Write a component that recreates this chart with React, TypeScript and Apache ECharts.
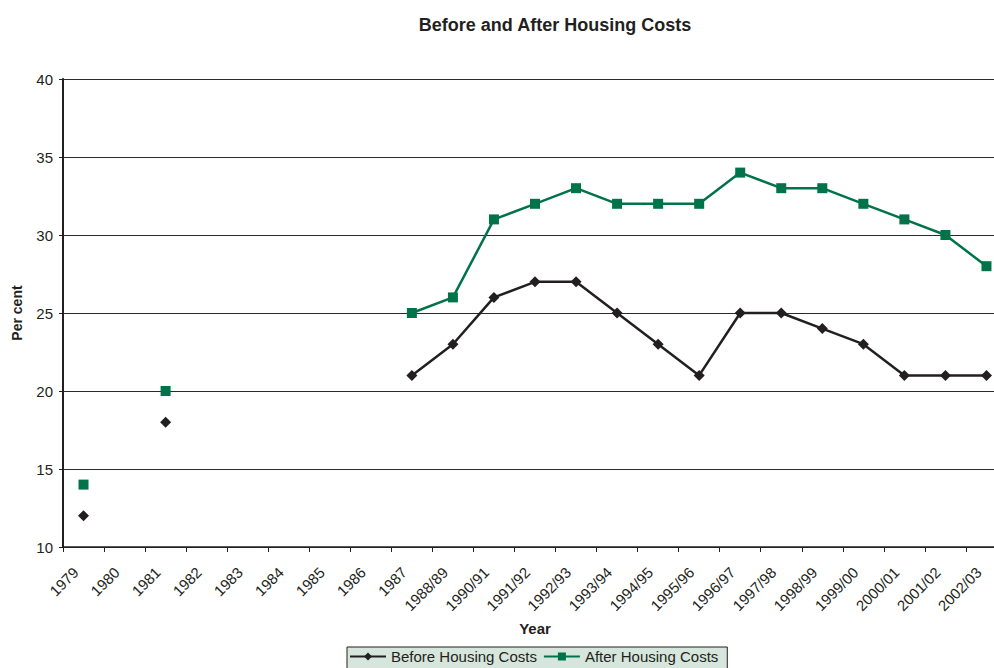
import React, { useEffect, useRef } from "react";
import * as echarts from "echarts";

const categories = ["1979","1980","1981","1982","1983","1984","1985","1986","1987","1988/89","1990/91","1991/92","1992/93","1993/94","1994/95","1995/96","1996/97","1997/98","1998/99","1999/00","2000/01","2001/02","2002/03"];
const beforeHC = [12,null,18,null,null,null,null,null,21,23,26,27,27,25,23,21,25,25,24,23,21,21,21];
const afterHC = [14,null,20,null,null,null,null,null,25,26,31,32,33,32,32,32,34,33,33,32,31,30,28];
const yTicks = { min: 10, max: 40, interval: 5 };

const FONT = "'Liberation Sans', Arial, sans-serif";
const DARK = "#231f20";
const GREEN = "#00734a";

export default function App() {
  const ref = useRef<HTMLDivElement>(null);
  useEffect(() => {
    const chart = echarts.init(ref.current!, null, { renderer: "svg" });
    chart.setOption({
      animation: false,
      textStyle: { fontFamily: FONT },
      title: {
        text: "Before and After Housing Costs",
        left: 550,
        top: 11,
        textAlign: "center",
        textStyle: { fontSize: 18, fontWeight: "bold", color: DARK, fontFamily: FONT },
      },
      grid: { left: 63, top: 79, width: 944, height: 468, containLabel: false },
      legend: {
        top: 647,
        left: 347,
        itemGap: 6,
        itemWidth: 36,
        itemHeight: 10,
        padding: [2, 9, 6, 2],
        backgroundColor: "#d7e6dc",
        borderColor: DARK,
        borderWidth: 1,
        borderRadius: 0,
        textStyle: { fontSize: 15, color: DARK, fontFamily: FONT },
        data: ["Before Housing Costs", "After Housing Costs"],
      },
      xAxis: {
        type: "category",
        data: categories,
        boundaryGap: true,
        name: "Year",
        nameLocation: "middle",
        nameGap: 74,
        nameTextStyle: { fontSize: 15, fontWeight: "bold", color: DARK, fontFamily: FONT },
        axisLine: { lineStyle: { color: DARK, width: 1.5 } },
        axisTick: { show: true, length: 5, alignWithLabel: false, lineStyle: { color: DARK } },
        axisLabel: { rotate: 45, fontSize: 15, color: DARK, fontFamily: FONT, margin: 15, padding: [0, 11, 0, 0], interval: 0 },
        splitLine: { show: false },
      },
      yAxis: {
        type: "value",
        min: yTicks.min,
        max: yTicks.max,
        interval: yTicks.interval,
        name: "Per cent",
        nameLocation: "middle",
        nameGap: 39,
        nameRotate: 90,
        nameTextStyle: { fontSize: 14, fontWeight: "bold", color: DARK, fontFamily: FONT },
        axisLine: { show: true, lineStyle: { color: DARK, width: 2 } },
        axisTick: { show: true, length: 4, lineStyle: { color: DARK } },
        axisLabel: { fontSize: 15, color: DARK, fontFamily: FONT, margin: 10 },
        splitLine: { show: true, lineStyle: { color: "#2a2a2a", width: 1 } },
      },
      series: [
        {
          name: "Before Housing Costs",
          type: "line",
          data: beforeHC,
          connectNulls: false,
          symbol: "diamond",
          symbolSize: 11,
          showAllSymbol: true,
          lineStyle: { color: DARK, width: 2.5 },
          itemStyle: { color: DARK },
        },
        {
          name: "After Housing Costs",
          type: "line",
          data: afterHC,
          connectNulls: false,
          symbol: "rect",
          symbolSize: 10,
          showAllSymbol: true,
          lineStyle: { color: GREEN, width: 2.5 },
          itemStyle: { color: GREEN },
        },
      ],
    });
    return () => chart.dispose();
  }, []);
  return (
    <div style={{ width: 994, height: 668, position: "absolute", left: 0, top: 0, overflow: "hidden" }}>
      <div ref={ref} style={{ width: 1010, height: 668 }} />
    </div>
  );
}
